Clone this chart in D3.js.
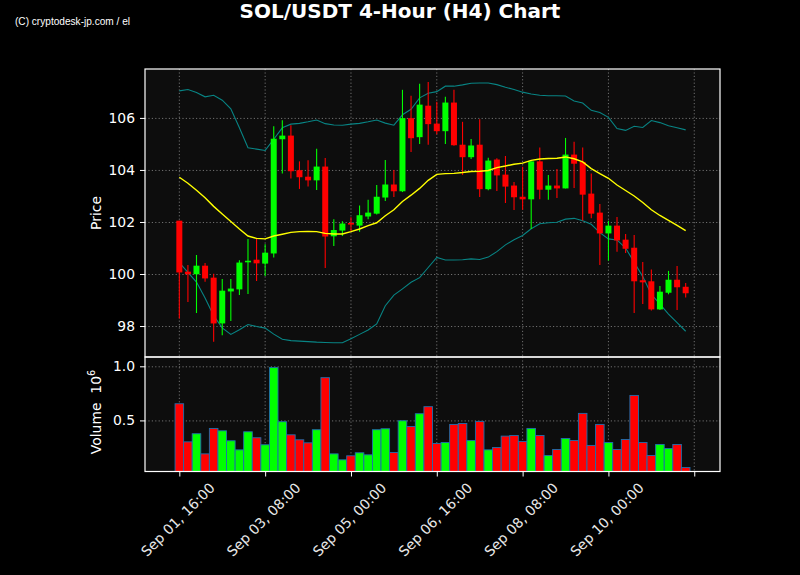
<!DOCTYPE html>
<html><head><meta charset="utf-8">
<script src="https://cdn.jsdelivr.net/npm/d3@7"></script>
<style>html,body{margin:0;padding:0;background:#000;}svg{display:block;}</style>
</head><body>
<svg id="chart" width="800" height="575"></svg>
<script>
// ---- data (4-hour candles starting Sep 01 16:00) ----
const openP = [102.05,100.09,99.99,100.32,99.86,98.10,99.33,99.41,100.45,100.55,
100.40,100.79,105.18,105.32,103.99,103.74,103.60,104.13,101.45,101.67,
101.96,101.86,102.21,102.32,102.94,103.44,103.18,105.99,105.26,106.47,
105.78,105.49,106.59,104.97,104.49,104.97,103.26,104.40,103.82,103.40,
102.97,102.87,104.33,103.24,103.40,103.29,104.59,104.31,103.09,102.36,
101.56,101.86,101.32,101.01,99.76,99.72,98.64,99.28,99.78,99.51];
const highP = [102.05,100.35,100.73,100.42,100.01,99.81,99.81,100.53,101.35,101.37,
101.14,105.68,105.91,105.72,104.33,104.37,104.81,104.46,102.10,102.03,
102.18,102.63,102.85,103.42,104.38,104.00,107.08,106.85,107.31,107.38,
106.62,106.81,107.08,105.85,105.19,105.95,104.47,104.45,104.54,103.54,
104.12,104.33,104.86,103.81,104.04,105.23,105.08,104.86,103.86,102.69,
102.05,102.19,101.54,101.50,100.46,100.17,99.54,100.12,100.31,99.65];
const lowP = [98.29,98.92,98.50,99.70,97.40,97.65,98.19,99.19,99.23,99.73,
99.92,100.63,103.86,103.67,103.27,103.36,103.23,100.23,101.08,101.46,
101.65,101.62,102.10,102.29,102.81,102.96,103.15,104.69,105.00,104.97,
105.37,105.00,104.93,103.81,104.42,102.96,103.22,103.19,102.73,102.46,
102.47,101.73,102.87,102.85,102.92,103.29,103.31,102.06,102.14,100.35,
100.51,100.86,100.81,98.50,98.85,98.60,98.62,99.22,98.62,99.10];
const closeP = [100.06,99.99,100.32,99.83,98.10,99.36,99.44,100.44,100.51,100.41,
100.82,105.20,105.32,103.95,103.72,103.60,104.13,101.44,101.69,101.94,
101.90,102.26,102.36,102.97,103.44,103.18,105.99,105.22,106.51,105.76,
105.49,106.59,104.95,104.49,104.94,103.26,104.36,103.79,103.36,102.95,
102.87,104.33,103.24,103.40,103.29,104.59,104.24,103.05,102.32,101.56,
101.86,101.29,100.97,99.72,99.68,98.64,99.32,99.78,99.49,99.26];
// volume in units of 10^6
const volume = [0.654,0.302,0.377,0.191,0.426,0.404,0.312,0.228,0.395,0.340,
0.275,0.988,0.488,0.367,0.321,0.293,0.414,0.895,0.191,0.136,
0.173,0.201,0.182,0.414,0.423,0.204,0.497,0.444,0.562,0.627,
0.287,0.296,0.463,0.472,0.315,0.491,0.228,0.250,0.355,0.361,
0.306,0.426,0.361,0.176,0.231,0.333,0.315,0.565,0.269,0.463,
0.296,0.231,0.324,0.731,0.296,0.176,0.278,0.241,0.278,0.065];
// moving average (yellow) and Bollinger bands (teal)
const maLine = [103.72,103.49,103.22,102.93,102.60,102.31,102.02,101.73,101.46,101.37,
101.35,101.46,101.53,101.60,101.63,101.64,101.63,101.56,101.54,101.54,
101.63,101.73,101.86,101.97,102.24,102.47,102.79,103.03,103.29,103.60,
103.83,103.86,103.87,103.90,103.94,103.95,103.98,104.09,104.15,104.22,
104.26,104.37,104.42,104.44,104.45,104.50,104.43,104.31,104.05,103.86,
103.68,103.42,103.21,103.00,102.75,102.47,102.25,102.06,101.87,101.67];
const upperBand = [107.04,107.09,106.98,106.81,106.87,106.68,106.35,105.62,104.85,104.80,
104.75,105.18,105.62,105.76,105.79,105.85,105.92,105.78,105.73,105.72,
105.76,105.79,105.85,105.92,105.80,105.72,106.12,106.33,106.77,106.95,
107.01,107.22,107.22,107.27,107.33,107.34,107.34,107.28,107.18,107.09,
106.99,106.92,106.87,106.85,106.85,106.84,106.65,106.57,106.29,106.21,
106.02,105.59,105.52,105.68,105.63,105.90,105.82,105.70,105.62,105.54];
const lowerBand = [100.44,100.06,99.69,99.08,98.40,97.93,97.68,97.86,98.06,97.98,
97.92,97.69,97.49,97.44,97.42,97.40,97.38,97.37,97.36,97.36,
97.51,97.68,97.85,98.08,98.78,99.19,99.43,99.68,99.86,100.25,
100.64,100.54,100.54,100.55,100.58,100.56,100.65,100.86,101.12,101.32,
101.48,101.74,101.93,101.97,101.99,102.11,102.14,102.05,101.91,101.59,
101.35,101.31,101.00,100.45,99.90,99.22,98.84,98.46,98.13,97.80];
const priceTicks = [98,100,102,104,106];
const volumeTicks = [0.5,1.0];
const xTickIndex = [0,10,20,30,40,50,60];
const xTickLabels = ["Sep 01, 16:00","Sep 03, 08:00","Sep 05, 00:00","Sep 06, 16:00","Sep 08, 08:00","Sep 10, 00:00",""];

// ---- layout ----
const L = 145, R = 720, PT = 69, PB = 357, VT = 357, VB = 471.5;
const UP = "#00ff00", DOWN = "#ff0000";
const svg = d3.select("#chart");
svg.append("rect").attr("width",800).attr("height",575).attr("fill","#000");

const n = closeP.length;
const x = d3.scaleLinear().domain([-4, 63]).range([L, R]);
const yP = d3.scaleLinear().domain([96.81, 107.88]).range([PB, PT]);
const yV = d3.scaleLinear().domain([0.028, 1.086]).range([VB, VT]);
const step = x(1) - x(0);

const defs = svg.append("defs");
defs.append("clipPath").attr("id","cp").append("rect").attr("x",L).attr("y",PT).attr("width",R-L).attr("height",PB-PT);
defs.append("clipPath").attr("id","cv").append("rect").attr("x",L).attr("y",VT).attr("width",R-L).attr("height",VB-VT);

// panel backgrounds
svg.append("rect").attr("x",L).attr("y",PT).attr("width",R-L).attr("height",PB-PT).attr("fill","#0d0d0d");
svg.append("rect").attr("x",L).attr("y",VT).attr("width",R-L).attr("height",VB-VT).attr("fill","#0d0d0d");

// grids
const gridStyle = s => s.attr("stroke","#9a9a9a").attr("stroke-opacity",0.7).attr("stroke-width",1).attr("stroke-dasharray","1.2,2.2");
const gp = svg.append("g").attr("clip-path","url(#cp)");
gp.selectAll("line.h").data(priceTicks).join("line").attr("x1",L).attr("x2",R)
  .attr("y1",d=>yP(d)+0.5).attr("y2",d=>yP(d)+0.5).call(gridStyle);
gp.selectAll("line.v").data(xTickIndex).join("line").attr("y1",PT).attr("y2",PB)
  .attr("x1",d=>x(d)).attr("x2",d=>x(d)).call(gridStyle);
const gv = svg.append("g").attr("clip-path","url(#cv)");
gv.selectAll("line.h").data(volumeTicks).join("line").attr("x1",L).attr("x2",R)
  .attr("y1",d=>yV(d)+0.5).attr("y2",d=>yV(d)+0.5).call(gridStyle);
gv.selectAll("line.v").data(xTickIndex).join("line").attr("y1",VT).attr("y2",VB)
  .attr("x1",d=>x(d)).attr("x2",d=>x(d)).call(gridStyle);

// bands + MA
const idx = d3.range(n);
const lineGen = arr => d3.line().x(i=>x(i)).y(i=>yP(arr[i]))(idx);
gp.append("path").attr("d",lineGen(upperBand)).attr("fill","none").attr("stroke","#088484").attr("stroke-width",1.1);
gp.append("path").attr("d",lineGen(lowerBand)).attr("fill","none").attr("stroke","#088484").attr("stroke-width",1.1);

// candles
const cg = gp.append("g");
idx.forEach(i=>{
  const col = closeP[i] >= openP[i] ? UP : DOWN;
  cg.append("line").attr("x1",x(i)).attr("x2",x(i)).attr("y1",yP(highP[i])).attr("y2",yP(lowP[i]))
    .attr("stroke",col).attr("stroke-width",1.1);
  const y0 = yP(Math.max(openP[i],closeP[i])), y1 = yP(Math.min(openP[i],closeP[i]));
  cg.append("rect").attr("x",x(i)-3).attr("width",6).attr("y",y0).attr("height",Math.max(1.5,y1-y0)).attr("fill",col);
});
gp.append("path").attr("d",lineGen(maLine)).attr("fill","none").attr("stroke","#ffff00").attr("stroke-width",1.4);

// volume bars
gv.selectAll("rect.vb").data(idx).join("rect")
  .attr("x",i=>x(i)-step/2).attr("width",step)
  .attr("y",i=>yV(volume[i])).attr("height",i=>VB-yV(volume[i]))
  .attr("fill",i=>closeP[i]>=openP[i]?UP:DOWN)
  .attr("stroke","#1f6fae").attr("stroke-width",0.9);

// frames
svg.append("rect").attr("x",L).attr("y",PT).attr("width",R-L).attr("height",PB-PT).attr("fill","none").attr("stroke","#fff").attr("stroke-width",1.2);
svg.append("rect").attr("x",L).attr("y",VT).attr("width",R-L).attr("height",VB-VT).attr("fill","none").attr("stroke","#fff").attr("stroke-width",1.2);

// axes
const font = "DejaVu Sans, sans-serif";
function styleAxis(g){
  g.select(".domain").remove();
  g.selectAll(".tick line").attr("stroke","#fff").attr("stroke-width",1);
  g.selectAll(".tick text").attr("fill","#fff").style("font-family",font).style("font-size","13.9px");
}
svg.append("g").attr("transform",`translate(${L},0)`)
  .call(d3.axisLeft(yP).tickValues(priceTicks).tickSize(5).tickPadding(5).tickFormat(d3.format("d"))).call(styleAxis);
svg.append("g").attr("transform",`translate(${L},0)`)
  .call(d3.axisLeft(yV).tickValues(volumeTicks).tickSize(5).tickPadding(5).tickFormat(d3.format(".1f"))).call(styleAxis);
const xa = svg.append("g").attr("transform",`translate(0,${VB})`)
  .call(d3.axisBottom(x).tickValues(xTickIndex).tickSize(5).tickFormat((d,k)=>xTickLabels[k])).call(styleAxis);
xa.selectAll(".tick text").attr("fill","#e8e8e8")
  .attr("text-anchor","middle").attr("dy",null).attr("y",null)
  .attr("dominant-baseline","central")
  .attr("transform","translate(-2,48) rotate(-45)");

// labels
svg.append("text").attr("transform","translate(101,213) rotate(-90)").attr("text-anchor","middle")
  .attr("fill","#fff").style("font-family",font).style("font-size","13.9px").text("Price");
const vl = svg.append("text").attr("transform","translate(101,412) rotate(-90)").attr("text-anchor","middle")
  .attr("fill","#fff").style("font-family",font).style("font-size","13.9px");
vl.append("tspan").text("Volume\u00a0\u00a010");
vl.append("tspan").attr("dy",-6).style("font-size","9.7px").text("6");

svg.append("text").attr("x",400).attr("y",17.5).attr("text-anchor","middle").attr("fill","#fff")
  .style("font-family",font).style("font-weight","bold").style("font-size","20px").text("SOL/USDT 4-Hour (H4) Chart");
svg.append("text").attr("x",15).attr("y",25).attr("fill","#fff")
  .attr("textLength",115).attr("lengthAdjust","spacingAndGlyphs")
  .style("font-family","Liberation Sans Narrow, Liberation Sans, sans-serif").style("font-size","11px")
  .text("(C) cryptodesk-jp.com / el");
</script>
</body></html>
